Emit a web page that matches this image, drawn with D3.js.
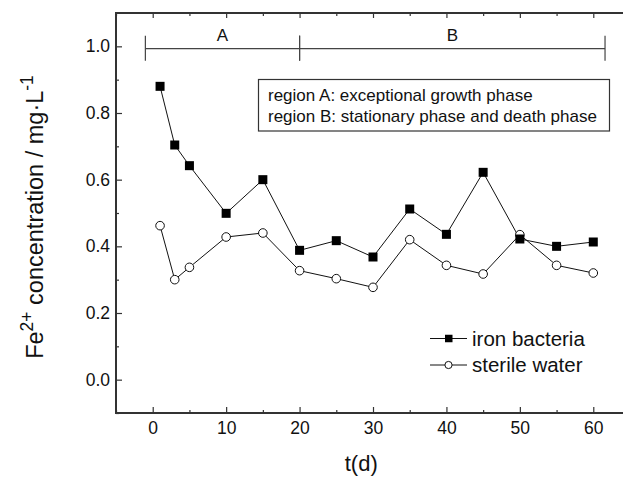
<!DOCTYPE html>
<html>
<head>
<meta charset="utf-8">
<script src="https://cdn.jsdelivr.net/npm/d3@7"></script>
<style>
  body { margin: 0; background: #fff; }
  svg { display: block; font-family: "Liberation Sans", Arial, sans-serif; }
</style>
</head>
<body>
<svg id="chart" width="623" height="477"></svg>
<script>
const days = [1, 3, 5, 10, 15, 20, 25, 30, 35, 40, 45, 50, 55, 60];
const ironBacteria = [0.88, 0.704, 0.642, 0.499, 0.60, 0.388, 0.417, 0.368, 0.512, 0.436, 0.622, 0.422, 0.40, 0.413];
const sterileWater = [0.462, 0.30, 0.337, 0.428, 0.44, 0.327, 0.303, 0.277, 0.42, 0.343, 0.317, 0.435, 0.343, 0.32];
const xTicks = [0, 10, 20, 30, 40, 50, 60];
const yTicks = [0.0, 0.2, 0.4, 0.6, 0.8, 1.0];
const phases = [
  { name: "A", from: -1, to: 20 },
  { name: "B", from: 20, to: 61.6 }
];
const regionNotes = ["region A: exceptional growth phase", "region B: stationary phase and death phase"];

const svg = d3.select("#chart");
const margin = { left: 116, top: 13, right: 630, bottom: 413 };

const x = d3.scaleLinear().domain([-5, 65]).range([margin.left, margin.right]);
const y = d3.scaleLinear().domain([-0.1, 1.1]).range([margin.bottom, margin.top]);

const axisColor = "#333";

// ======== axes (ticks inward, mirrored on top)
function styleAxis(g) {
  g.select(".domain").remove();
  g.selectAll("line").attr("stroke", axisColor).attr("stroke-width", 1.2);
  g.selectAll("text").attr("font-size", 17.5).attr("fill", "#111");
}

svg.append("g")
  .attr("transform", `translate(0,${margin.bottom})`)
  .call(d3.axisBottom(x).tickValues(xTicks).tickSizeInner(-6).tickSizeOuter(0).tickPadding(9).tickFormat(d3.format("d")))
  .call(styleAxis);
svg.append("g")
  .attr("transform", `translate(0,${margin.bottom})`)
  .call(d3.axisBottom(x).tickValues(d3.range(-5, 66, 10)).tickSizeInner(-3).tickSizeOuter(0).tickFormat(""))
  .call(styleAxis);

svg.append("g")
  .attr("transform", `translate(${margin.left},0)`)
  .call(d3.axisLeft(y).tickValues(yTicks).tickSizeInner(-6).tickSizeOuter(0).tickPadding(6).tickFormat(d3.format(".1f")))
  .call(styleAxis);
svg.append("g")
  .attr("transform", `translate(${margin.left},0)`)
  .call(d3.axisLeft(y).tickValues(d3.range(-0.1, 1.05, 0.2)).tickSizeInner(-3).tickSizeOuter(0).tickFormat(""))
  .call(styleAxis);

svg.append("g")
  .attr("transform", `translate(0,${margin.top})`)
  .call(d3.axisTop(x).tickValues(xTicks).tickSizeInner(-5).tickSizeOuter(0).tickFormat(""))
  .call(styleAxis);
svg.append("g")
  .attr("transform", `translate(0,${margin.top})`)
  .call(d3.axisTop(x).tickValues(d3.range(-5, 66, 10)).tickSizeInner(-3).tickSizeOuter(0).tickFormat(""))
  .call(styleAxis);

// frame
svg.append("path")
  .attr("d", `M${margin.right},${margin.top}H${margin.left}V${margin.bottom}H${margin.right}`)
  .attr("fill", "none")
  .attr("stroke", axisColor)
  .attr("stroke-width", 2);

// ======== phase bar
const barY = y(0.993);
const phaseG = svg.append("g").attr("stroke", "#444").attr("stroke-width", 1.2);
phases.forEach(p => {
  phaseG.append("line").attr("x1", x(p.from)).attr("x2", x(p.to)).attr("y1", barY).attr("y2", barY);
  phaseG.append("line").attr("x1", x(p.from)).attr("x2", x(p.from)).attr("y1", barY - 13).attr("y2", barY + 12);
  phaseG.append("line").attr("x1", x(p.to)).attr("x2", x(p.to)).attr("y1", barY - 13).attr("y2", barY + 12);
});
svg.append("g").selectAll("text")
  .data(phases)
  .join("text")
  .attr("x", d => x((d.from + d.to) / 2))
  .attr("y", barY - 7.5)
  .attr("text-anchor", "middle")
  .attr("font-size", 17)
  .attr("fill", "#111")
  .text(d => d.name);

// ======== region notes box
svg.append("rect")
  .attr("x", 258.5).attr("y", 79.5).attr("width", 351).attr("height", 51.5)
  .attr("fill", "#fff").attr("stroke", "#333").attr("stroke-width", 1.2);
svg.append("g").selectAll("text")
  .data(regionNotes)
  .join("text")
  .attr("x", 268)
  .attr("y", (d, i) => 101 + i * 20.5)
  .attr("font-size", 17)
  .attr("fill", "#111")
  .text(d => d);

// ======== series
const lineGen = d3.line().x(d => x(d[0])).y(d => y(d[1]));
const ironData = days.map((d, i) => [d, ironBacteria[i]]);
const sterileData = days.map((d, i) => [d, sterileWater[i]]);

svg.append("path").datum(sterileData).attr("d", lineGen)
  .attr("fill", "none").attr("stroke", "#111").attr("stroke-width", 1);
svg.append("path").datum(ironData).attr("d", lineGen)
  .attr("fill", "none").attr("stroke", "#111").attr("stroke-width", 1);

svg.append("g").selectAll("circle")
  .data(sterileData)
  .join("circle")
  .attr("cx", d => x(d[0])).attr("cy", d => y(d[1])).attr("r", 4.3)
  .attr("fill", "#fff").attr("stroke", "#111").attr("stroke-width", 1);

svg.append("g").selectAll("rect")
  .data(ironData)
  .join("rect")
  .attr("x", d => x(d[0]) - 4.5).attr("y", d => y(d[1]) - 4.5)
  .attr("width", 9).attr("height", 9)
  .attr("fill", "#000");

// ======== legend
const legend = svg.append("g");
const legendRows = [
  { label: "iron bacteria", y: 338.5, square: true },
  { label: "sterile water", y: 365, square: false }
];
legendRows.forEach(r => {
  legend.append("line").attr("x1", 430).attr("x2", 467).attr("y1", r.y).attr("y2", r.y)
    .attr("stroke", "#111").attr("stroke-width", 1);
  if (r.square) {
    legend.append("rect").attr("x", 445).attr("y", r.y - 3.75).attr("width", 7.5).attr("height", 7.5).attr("fill", "#000");
  } else {
    legend.append("circle").attr("cx", 448.5).attr("cy", r.y).attr("r", 3.6)
      .attr("fill", "#fff").attr("stroke", "#111");
  }
  legend.append("text").attr("x", 472).attr("y", r.y + 7)
    .attr("font-size", 20.5).attr("fill", "#111").text(r.label);
});

// ======== axis titles
svg.append("text")
  .attr("x", x(28.4)).attr("y", 471)
  .attr("text-anchor", "middle")
  .attr("font-size", 22).attr("fill", "#111")
  .text("t(d)");

const yTitle = svg.append("text")
  .attr("transform", `translate(43,217) rotate(-90)`)
  .attr("text-anchor", "middle")
  .attr("font-size", 23.5).attr("fill", "#111");
yTitle.append("tspan").text("Fe");
yTitle.append("tspan").attr("dy", -10).attr("font-size", 17.5).text("2+");
yTitle.append("tspan").attr("dy", 10).text(" concentration / mg·L");
yTitle.append("tspan").attr("dy", -10).attr("font-size", 17.5).text("-1");
</script>
</body>
</html>
